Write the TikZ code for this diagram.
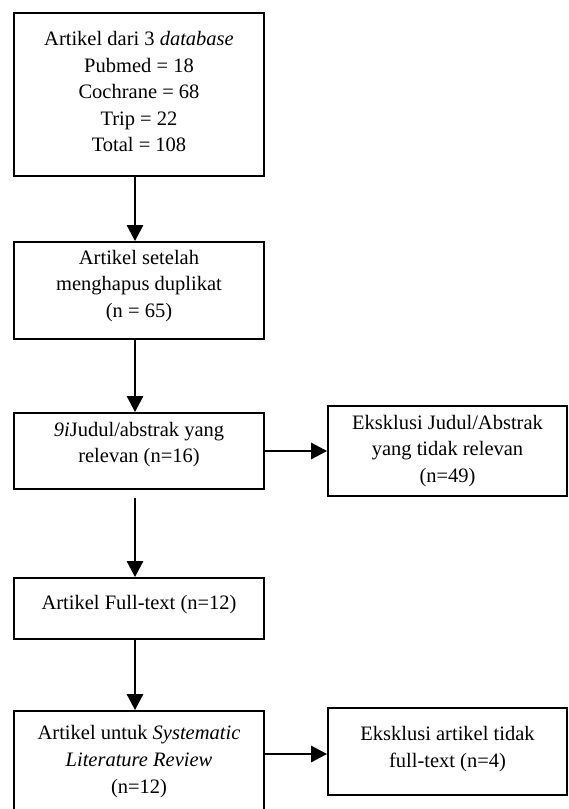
\documentclass[tikz,border=0pt]{standalone}
\usepackage{fontspec}
\setmainfont{Liberation Serif}
\usetikzlibrary{arrows.meta}

% invisible depth below the last line, lifts the text inside a box
\newcommand{\lift}[1]{\rule[-#1]{0pt}{0pt}}

\begin{document}
\begin{tikzpicture}[x=1pt,y=-1pt,
    box/.style={draw, line width=1.8pt, minimum width=250pt, inner sep=0pt,
        align=center, font=\fontsize{20.5}{26.6}\selectfont},
    sidebox/.style={box, minimum width=239pt},
    arr/.style={-{Triangle[length=16pt,width=16pt]}, line width=2.8pt}]

    \useasboundingbox (0,0) rectangle (568,809);

    \node[box, minimum height=163pt] (dbs) at (139,94.5)
        {Artikel dari 3 \textit{database}\\ Pubmed = 18\\ Cochrane = 68\\ Trip = 22\\ Total = 108\lift{6pt}};
    \node[box, minimum height=97pt] (dupl) at (139,290.5)
        {Artikel setelah\\ menghapus duplikat\\ (n = 65)\lift{14pt}};
    \node[box, minimum height=76pt] (judul) at (139,451)
        {\textit{9i}Judul/abstrak yang\\ relevan (n=16)\lift{17pt}};
    \node[sidebox, minimum height=90pt] (exjudul) at (447.5,451)
        {Eksklusi Judul/Abstrak\\ yang tidak relevan\\ (n=49)};
    \node[box, minimum height=61pt] (full) at (139,608.5)
        {Artikel Full-text (n=12)\lift{13pt}};
    \node[box, minimum height=101pt] (slr) at (139,761.5)
        {Artikel untuk \textit{Systematic}\\ \textit{Literature Review}\\ (n=12)};
    \node[sidebox, minimum height=87pt] (exfull) at (447.5,751.5)
        {Eksklusi artikel tidak\\ full-text (n=4)\lift{9pt}};

    % main column, a little left of the box centres
    \draw[arr] ([xshift=-4pt]dbs.south) -- ([xshift=-4pt]dbs.south |- dupl.north);
    \draw[arr] ([xshift=-4pt]dupl.south) -- ([xshift=-4pt]dupl.south |- judul.north);
    \draw[arr, shorten <=8pt] ([xshift=-4pt]judul.south) -- ([xshift=-4pt]judul.south |- full.north);
    \draw[arr] ([xshift=-4pt]full.south) -- ([xshift=-4pt]full.south |- slr.north);

    % exclusions
    \draw[arr] (judul.east) -- (judul.east -| exjudul.west);
    \draw[arr] ([yshift=7.5pt]slr.east) -- ([yshift=7.5pt]slr.east -| exfull.west);

\end{tikzpicture}
\end{document}
